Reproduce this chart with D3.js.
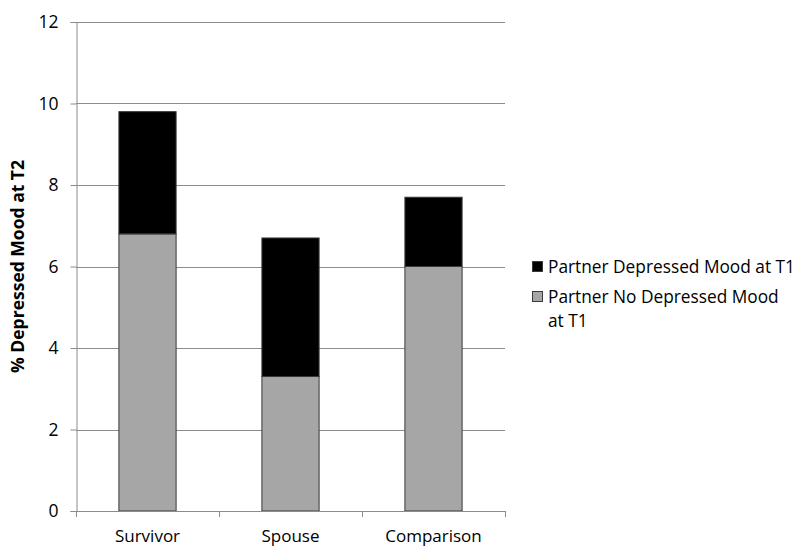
<!DOCTYPE html>
<html>
<head>
<meta charset="utf-8">
<script src="https://cdn.jsdelivr.net/npm/d3@7"></script>
<style>
  html, body { margin: 0; padding: 0; background: #fff; }
  text { font-family: "Open Sans", "Noto Sans", sans-serif; fill: #000; }
</style>
</head>
<body>
<svg id="chart" width="800" height="552"></svg>
<script>
const categories = ["Survivor", "Spouse", "Comparison"];
const noDepressed = [6.8, 3.3, 6.0];      // Partner No Depressed Mood at T1 (gray, bottom)
const depressed = [3.0, 3.4, 1.7];        // Partner Depressed Mood at T1 (black, top)
const yTicks = [0, 2, 4, 6, 8, 10, 12];
const seriesNames = ["Partner No Depressed Mood at T1", "Partner Depressed Mood at T1"];
const seriesColors = ["#a6a6a6", "#000000"];
const yTitle = "% Depressed Mood at T2";

(function () {
const svg = d3.select("#chart");
const mLeft = 76, mRight = 505, mTop = 22, mBottom = 511;

const x = d3.scaleBand().domain(categories).range([mLeft, mRight]).paddingInner(0).paddingOuter(0);
const y = d3.scaleLinear().domain([0, 12]).range([mBottom, mTop]);

// gridlines
svg.append("g").selectAll("line").data(yTicks.filter(d => d > 0)).join("line")
  .attr("x1", mLeft).attr("x2", mRight)
  .attr("y1", d => Math.round(y(d)) + 0.5).attr("y2", d => Math.round(y(d)) + 0.5)
  .attr("stroke", "#8c8c8c").attr("stroke-width", 1);

// stacked bars
const rows = categories.map((c, i) => ({ cat: c, v0: noDepressed[i], v1: depressed[i] }));
const stack = d3.stack().keys(["v0", "v1"])(rows);
const barW = x.bandwidth() * 0.4;
stack.forEach((layer, li) => {
  svg.append("g").selectAll("rect").data(layer).join("rect")
    .attr("x", d => x(d.data.cat) + (x.bandwidth() - barW) / 2)
    .attr("width", barW)
    .attr("y", d => y(d[1]))
    .attr("height", d => y(d[0]) - y(d[1]))
    .attr("fill", seriesColors[li])
    .attr("stroke", "#3a3a3a").attr("stroke-width", 1);
});

// y axis
const yAxis = d3.axisLeft(y).tickValues(yTicks).tickSize(6).tickPadding(12).tickFormat(d3.format("d"));
const gy = svg.append("g").attr("transform", `translate(${mLeft + 0.5},0)`).call(yAxis);
gy.select(".domain").attr("stroke", "#8c8c8c");
gy.selectAll(".tick line").attr("stroke", "#8c8c8c");
gy.selectAll(".tick text").attr("font-size", "17.5px").attr("font-family", '"Open Sans", sans-serif');

// x axis
const xEdge = d3.scaleLinear().domain([0, categories.length]).range([mLeft, mRight]);
const gx = svg.append("g");
gx.append("line").attr("x1", mLeft).attr("x2", mRight)
  .attr("y1", mBottom + 0.5).attr("y2", mBottom + 0.5).attr("stroke", "#8c8c8c");
gx.selectAll("line.tk").data(d3.range(categories.length + 1)).join("line").attr("class", "tk")
  .attr("x1", d => Math.round(xEdge(d)) + 0.5).attr("x2", d => Math.round(xEdge(d)) + 0.5)
  .attr("y1", mBottom).attr("y2", mBottom + 6).attr("stroke", "#8c8c8c");
gx.selectAll("text").data(categories).join("text")
  .attr("x", d => x(d) + x.bandwidth() / 2).attr("y", 542)
  .attr("text-anchor", "middle").attr("font-size", "17px").text(d => d);

// y title
svg.append("text")
  .attr("transform", `translate(24,${(mTop + mBottom) / 2}) rotate(-90)`)
  .attr("text-anchor", "middle").attr("font-size", "17.5px").attr("font-weight", "bold")
  .text(yTitle);

// legend
const legend = svg.append("g");
const legendItems = [
  { name: seriesNames[1], color: seriesColors[1], lines: ["Partner Depressed Mood at T1"], y: 273 },
  { name: seriesNames[0], color: seriesColors[0], lines: ["Partner No Depressed Mood", "at T1"], y: 303 }
];
legendItems.forEach(it => {
  legend.append("rect").attr("x", 532.5).attr("y", it.y - 11.5).attr("width", 10).attr("height", 10)
    .attr("fill", it.color).attr("stroke", "#3a3a3a").attr("stroke-width", 1);
  const t = legend.append("text").attr("x", 548).attr("y", it.y).attr("font-size", "17.3px");
  it.lines.forEach((l, i) => t.append("tspan").attr("x", 548).attr("dy", i === 0 ? 0 : 24).text(l));
});
})();
</script>
</body>
</html>
